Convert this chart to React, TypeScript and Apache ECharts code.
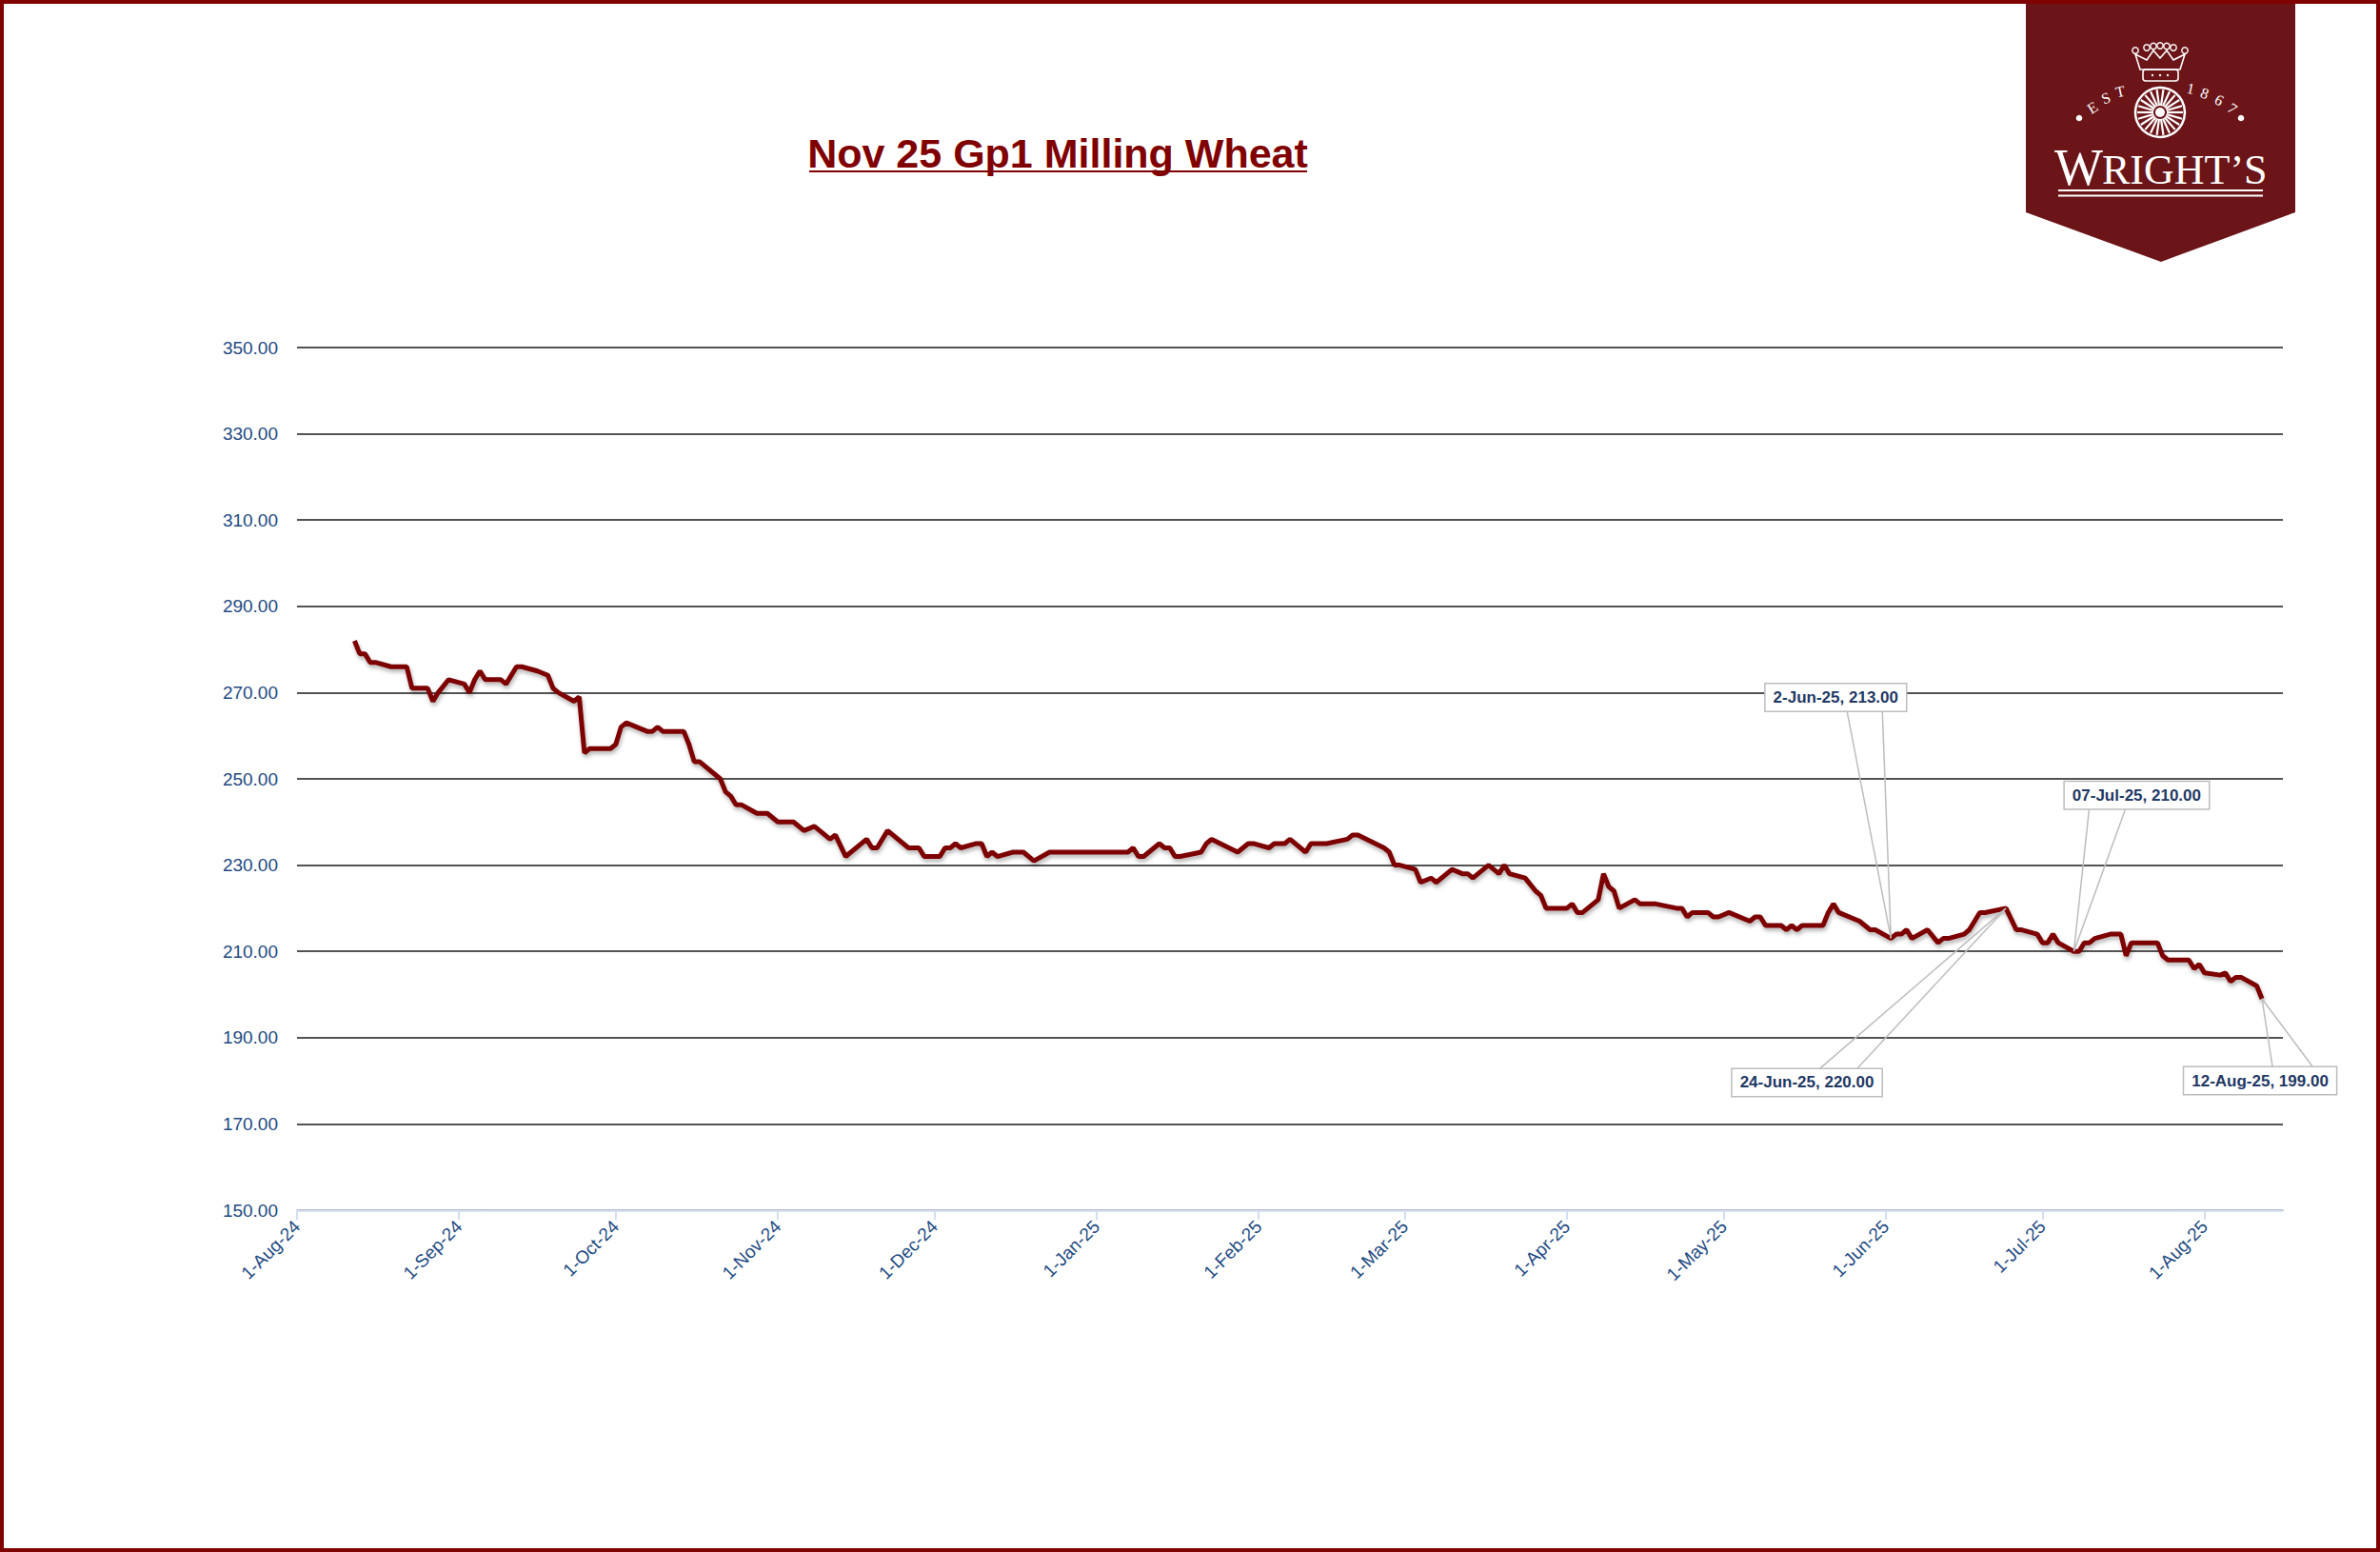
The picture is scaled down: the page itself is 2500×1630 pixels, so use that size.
import React, { useEffect, useRef } from 'react';
import * as echarts from 'echarts';

const DATES = [
  '2024-08-12','2024-08-13','2024-08-14','2024-08-15','2024-08-16','2024-08-19','2024-08-22','2024-08-23','2024-08-26','2024-08-27',
  '2024-08-28','2024-08-30','2024-09-02','2024-09-03','2024-09-04','2024-09-05','2024-09-06','2024-09-09','2024-09-10','2024-09-12',
  '2024-09-13','2024-09-16','2024-09-18','2024-09-19','2024-09-20','2024-09-23','2024-09-24','2024-09-25','2024-09-26','2024-09-30',
  '2024-10-01','2024-10-02','2024-10-03','2024-10-07','2024-10-08','2024-10-09','2024-10-10','2024-10-14','2024-10-15','2024-10-16',
  '2024-10-17','2024-10-21','2024-10-22','2024-10-23','2024-10-24','2024-10-25','2024-10-28','2024-10-30','2024-11-01','2024-11-04',
  '2024-11-06','2024-11-08','2024-11-11','2024-11-12','2024-11-14','2024-11-18','2024-11-19','2024-11-20','2024-11-22','2024-11-26',
  '2024-11-28','2024-11-29','2024-12-02','2024-12-03','2024-12-04','2024-12-05','2024-12-06','2024-12-09','2024-12-10','2024-12-11',
  '2024-12-12','2024-12-13','2024-12-16','2024-12-18','2024-12-20','2024-12-23','2025-01-07','2025-01-08','2025-01-09','2025-01-10',
  '2025-01-13','2025-01-14','2025-01-15','2025-01-16','2025-01-17','2025-01-21','2025-01-22','2025-01-23','2025-01-28','2025-01-30',
  '2025-01-31','2025-02-03','2025-02-04','2025-02-06','2025-02-07','2025-02-10','2025-02-11','2025-02-14','2025-02-18','2025-02-19',
  '2025-02-20','2025-02-25','2025-02-26','2025-02-27','2025-02-28','2025-03-03','2025-03-04','2025-03-06','2025-03-07','2025-03-10',
  '2025-03-12','2025-03-13','2025-03-14','2025-03-17','2025-03-19','2025-03-20','2025-03-21','2025-03-24','2025-03-26','2025-03-27',
  '2025-03-28','2025-04-01','2025-04-02','2025-04-03','2025-04-04','2025-04-07','2025-04-08','2025-04-09','2025-04-10','2025-04-11',
  '2025-04-14','2025-04-15','2025-04-18','2025-04-22','2025-04-23','2025-04-24','2025-04-25','2025-04-28','2025-04-29','2025-04-30',
  '2025-05-02','2025-05-06','2025-05-07','2025-05-08','2025-05-09','2025-05-12','2025-05-13','2025-05-14','2025-05-15','2025-05-16',
  '2025-05-20','2025-05-21','2025-05-22','2025-05-23','2025-05-27','2025-05-28','2025-05-29','2025-05-30','2025-06-02','2025-06-03',
  '2025-06-04','2025-06-05','2025-06-06','2025-06-09','2025-06-11','2025-06-12','2025-06-13','2025-06-16','2025-06-17','2025-06-19',
  '2025-06-20','2025-06-24','2025-06-26','2025-06-27','2025-06-30','2025-07-01','2025-07-02','2025-07-03','2025-07-04','2025-07-07',
  '2025-07-08','2025-07-09','2025-07-10','2025-07-11','2025-07-14','2025-07-16','2025-07-17','2025-07-18','2025-07-21','2025-07-23',
  '2025-07-24','2025-07-25','2025-07-29','2025-07-30','2025-07-31','2025-08-01','2025-08-04','2025-08-05','2025-08-06','2025-08-07',
  '2025-08-08','2025-08-11','2025-08-12'
];

const PRICES = [
  282, 279, 279, 277, 277, 276, 276, 271, 271, 268,
  270, 273, 272, 270, 273, 275, 273, 273, 272, 276,
  276, 275, 274, 271, 270, 268, 269, 256, 257, 257,
  258, 262, 263, 261, 261, 262, 261, 261, 258, 254,
  254, 250, 247, 246, 244, 244, 242, 242, 240, 240,
  238, 239, 236, 237, 232, 236, 234, 234, 238, 234,
  234, 232, 232, 234, 234, 235, 234, 235, 235, 232,
  233, 232, 233, 233, 231, 233, 233, 234, 232, 232,
  235, 234, 234, 232, 232, 233, 235, 236, 233, 235,
  235, 234, 235, 235, 236, 233, 235, 235, 236, 237,
  237, 234, 233, 230, 230, 229, 226, 227, 226, 229,
  228, 228, 227, 230, 228, 230, 228, 227, 224, 223,
  220, 220, 221, 219, 219, 222, 228, 225, 224, 220,
  222, 221, 221, 220, 220, 218, 219, 219, 218, 218,
  219, 217, 218, 218, 216, 216, 215, 216, 215, 216,
  216, 219, 221, 219, 217, 216, 215, 215, 213, 214,
  214, 215, 213, 215, 212, 213, 213, 214, 215, 219,
  219, 220, 215, 215, 214, 212, 212, 214, 212, 210,
  210, 212, 212, 213, 214, 214, 209, 212, 212, 212,
  209, 208, 208, 206, 207, 205, 204.5, 205, 203, 204,
  204, 202, 199
];

const X_MIN = '2024-08-01';
const X_MAX = '2025-08-16';
const Y_MIN = 150;
const Y_MAX = 350;
const Y_STEP = 20;
const MONTH_ABBR = ['Jan', 'Feb', 'Mar', 'Apr', 'May', 'Jun', 'Jul', 'Aug', 'Sep', 'Oct', 'Nov', 'Dec'];

const TITLE = 'Nov 25 Gp1 Milling Wheat';

const CALLOUT_DATES = ['2025-06-02', '2025-06-24', '2025-07-07', '2025-08-12'];
const CALLOUT_DATE_LABELS = ['2-Jun-25', '24-Jun-25', '07-Jul-25', '12-Aug-25'];

// layout of callout boxes relative to their point (pixels)
const CALLOUT_LAYOUT = [
  { dx: -58, dy: -253, b1: 12, b2: 49 },
  { dx: -209, dy: 183, b1: 14, b2: 53 },
  { dx: 66, dy: -164, b1: -50, b2: -12 },
  { dx: -2, dy: 86, b1: 13, b2: 55 },
];

const DAY = 24 * 3600 * 1000;

function logoElements(): any[] {
  const els: any[] = [];
  const white = '#ffffff';
  els.push({
    type: 'polygon',
    shape: { points: [[2128, 3], [2411, 3], [2411, 223], [2270, 275], [2128, 223]] },
    style: { fill: '#6b1519' },
  });
  // crown
  els.push({
    type: 'polygon',
    shape: { points: [[2248, 73], [2243, 57], [2255, 63], [2262, 53], [2269, 61], [2276, 53], [2283, 63], [2295, 57], [2290, 73]] },
    style: { fill: 'none', stroke: white, lineWidth: 1.6 },
  });
  [[2243, 53], [2255, 50], [2262, 48.5], [2269, 48], [2276, 48.5], [2283, 50], [2295, 53]].forEach((c) => {
    els.push({ type: 'circle', shape: { cx: c[0], cy: c[1], r: 3.2 }, style: { fill: 'none', stroke: white, lineWidth: 1.4 } });
  });
  els.push({ type: 'rect', shape: { x: 2251, y: 73, width: 37, height: 12, r: 3 }, style: { fill: 'none', stroke: white, lineWidth: 1.6 } });
  [2261, 2269, 2277].forEach((x) => {
    els.push({ type: 'circle', shape: { cx: x, cy: 79, r: 1.2 }, style: { fill: white } });
  });
  // wheel
  const cx = 2269, cy = 118;
  els.push({ type: 'circle', shape: { cx, cy, r: 26 }, style: { fill: 'none', stroke: white, lineWidth: 2.5 } });
  for (let i = 0; i < 22; i++) {
    const a = (i * Math.PI * 2) / 22;
    els.push({
      type: 'line',
      shape: { x1: cx + Math.cos(a) * 7, y1: cy + Math.sin(a) * 7, x2: cx + Math.cos(a) * 24, y2: cy + Math.sin(a) * 24 },
      style: { stroke: white, lineWidth: 2.2 },
    });
  }
  els.push({ type: 'circle', shape: { cx, cy, r: 5 }, style: { fill: white } });
  // EST 1867
  const letters: [string, number, number, number][] = [
    ['E', 2198, 113, 32], ['S', 2212, 103, 22], ['T', 2227, 96, 12],
    ['1', 2301, 93, -12], ['8', 2316, 98, -20], ['6', 2331, 105, -28], ['7', 2345, 114, -36],
  ];
  letters.forEach(([t, x, y, deg]) => {
    els.push({
      type: 'text', x, y, rotation: (deg * Math.PI) / 180,
      style: { text: t, fill: white, font: '16px "Liberation Serif"', align: 'center', verticalAlign: 'middle' },
    });
  });
  els.push({ type: 'circle', shape: { cx: 2184, cy: 124, r: 3.3 }, style: { fill: white } });
  els.push({ type: 'circle', shape: { cx: 2354, cy: 124, r: 3.3 }, style: { fill: white } });
  // WRIGHT'S
  els.push({
    type: 'text', x: 2209, y: 203,
    style: { text: 'W', fill: white, font: '54px "Liberation Serif"', align: 'right', verticalAlign: 'bottom' },
  });
  els.push({
    type: 'text', x: 2208, y: 200,
    style: { text: 'RIGHT\u2019S', fill: white, font: '44px "Liberation Serif"', align: 'left', verticalAlign: 'bottom' },
  });
  els.push({ type: 'line', shape: { x1: 2162, y1: 200, x2: 2377, y2: 200 }, style: { stroke: white, lineWidth: 2 } });
  els.push({ type: 'line', shape: { x1: 2162, y1: 205.5, x2: 2377, y2: 205.5 }, style: { stroke: white, lineWidth: 2 } });
  return els;
}

export default function App() {
  const ref = useRef<HTMLDivElement>(null);

  useEffect(() => {
    document.body.style.margin = '0';
    const chart = echarts.init(ref.current as HTMLDivElement, null, { renderer: 'svg' });

    const lineData = DATES.map((d, i) => [d, PRICES[i]]);
    const calloutData = CALLOUT_DATES.map((d) => [d, PRICES[DATES.indexOf(d)]]);

    const option: any = {
      animation: false,
      backgroundColor: '#ffffff',
      textStyle: { fontFamily: '"Liberation Sans", Arial, sans-serif' },
      grid: { left: 312, right: 102, top: 365, bottom: 359, containLabel: false },
      xAxis: {
        type: 'time',
        min: X_MIN,
        max: X_MAX,
        splitNumber: 12,
        minInterval: 30 * DAY,
        maxInterval: 30 * DAY,
        axisLine: { show: true, lineStyle: { color: '#d3def0', width: 2.5 } },
        axisTick: { show: true, length: 10, lineStyle: { color: '#d3def0', width: 2 } },
        splitLine: { show: false },
        minorTick: { show: false },
        axisLabel: {
          rotate: 45,
          margin: 14,
          fontSize: 19,
          color: '#234a82',
          showMaxLabel: false,
          hideOverlap: false,
          formatter: (val: number) => {
            const d = new Date(val);
            return `${d.getDate()}-${MONTH_ABBR[d.getMonth()]}-${String(d.getFullYear()).slice(2)}`;
          },
        },
      },
      yAxis: {
        type: 'value',
        min: Y_MIN,
        max: Y_MAX,
        interval: Y_STEP,
        axisLine: { show: false },
        axisTick: { show: false },
        axisLabel: {
          fontSize: 19,
          color: '#234a82',
          margin: 20,
          formatter: (v: number) => v.toFixed(2),
        },
        splitLine: { show: true, lineStyle: { color: '#1a1a1a', width: 1.5 } },
      },
      series: [
        {
          type: 'line',
          data: lineData,
          showSymbol: false,
          symbol: 'none',
          z: 3,
          lineStyle: {
            color: '#7d0000',
            width: 5,
            shadowColor: 'rgba(0,0,0,0.3)',
            shadowBlur: 4,
            shadowOffsetX: 1,
            shadowOffsetY: 3,
          },
        },
        {
          type: 'custom',
          data: calloutData,
          encode: { x: 0, y: 1 },
          clip: false,
          z: 5,
          renderItem: (params: any, api: any) => {
            const i = params.dataIndex;
            const L = CALLOUT_LAYOUT[i];
            const v = api.value(1);
            const pt = api.coord([api.value(0), v]);
            const bx = pt[0] + L.dx;
            const by = pt[1] + L.dy;
            const h = 30;
            const edgeY = L.dy > 0 ? by - h / 2 : by + h / 2;
            const label = `${CALLOUT_DATE_LABELS[i]}, ${Number(v).toFixed(2)}`;
            return {
              type: 'group',
              children: [
                {
                  type: 'polyline',
                  shape: { points: [[bx + L.b1, edgeY], [pt[0], pt[1]], [bx + L.b2, edgeY]] },
                  style: { stroke: '#bdbdbd', fill: 'none', lineWidth: 1.5 },
                },
                {
                  type: 'text',
                  x: bx,
                  y: by,
                  style: {
                    text: label,
                    fill: '#1f3864',
                    font: 'bold 17px "Liberation Sans", Arial, sans-serif',
                    align: 'center',
                    verticalAlign: 'middle',
                    backgroundColor: '#ffffff',
                    borderColor: '#bdbdbd',
                    borderWidth: 1.5,
                    padding: [6, 8, 5, 8],
                  },
                },
              ],
            };
          },
        },
      ],
      graphic: [
        {
          type: 'rect',
          shape: { x: 2, y: 2, width: 2496, height: 1626 },
          style: { fill: 'none', stroke: '#800000', lineWidth: 4 },
          z: 100,
        },
        {
          type: 'text',
          x: 1111,
          y: 161,
          style: {
            text: TITLE,
            fill: '#800000',
            font: 'bold 43px "Liberation Sans", Arial, sans-serif',
            align: 'center',
            verticalAlign: 'middle',
          },
        },
        {
          type: 'line',
          shape: { x1: 850, y1: 180, x2: 1373, y2: 180 },
          style: { stroke: '#800000', lineWidth: 2 },
        },
        ...logoElements(),
      ],
    };

    chart.setOption(option);
    return () => chart.dispose();
  }, []);

  return <div ref={ref} style={{ width: 2500, height: 1630 }} />;
}
